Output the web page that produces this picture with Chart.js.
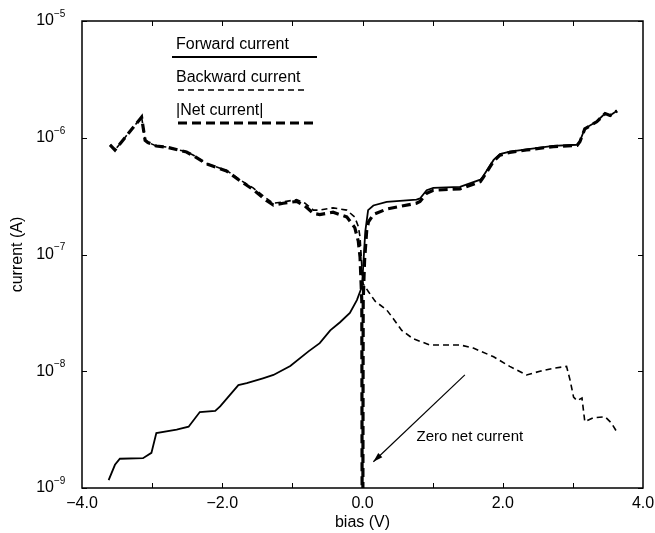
<!DOCTYPE html>
<html>
<head>
<meta charset="utf-8">
<script src="https://cdn.jsdelivr.net/npm/chart.js@4.4.1/dist/chart.umd.min.js"></script>
<style>
  html, body { margin: 0; padding: 0; background: #fff; }
  #wrap { width: 655px; height: 533px; }
</style>
</head>
<body>
<div id="wrap"><canvas id="ivChart" width="655" height="533"></canvas></div>
<script>
/* I-V curve: forward / backward / |net| current vs bias, log y axis */

const FONT = '"Liberation Sans", Arial, Helvetica, sans-serif';

// --- data ---
const forwardBias = [-3.62, -3.53, -3.46, -3.13, -3.01, -2.94, -2.65, -2.48, -2.32, -2.10, -2.03, -1.77, -1.65,
  -1.42, -1.27, -1.03, -0.77, -0.61, -0.46, -0.32, -0.18, -0.08, -0.01, 0.0, 0.02, 0.04, 0.08, 0.155, 0.345,
  0.77, 0.82, 0.915, 1.01, 1.39, 1.68, 1.72, 1.87, 1.96, 2.10, 2.34, 2.72, 3.06, 3.10, 3.17, 3.34, 3.46, 3.53, 3.63];
const forwardCurrent = [1.17e-9, 1.58e-9, 1.78e-9, 1.80e-9, 2.0e-9, 2.95e-9, 3.16e-9, 3.35e-9, 4.47e-9, 4.57e-9,
  5.0e-9, 7.6e-9, 7.9e-9, 8.7e-9, 9.3e-9, 1.11e-8, 1.48e-8, 1.74e-8, 2.24e-8, 2.63e-8, 3.16e-8, 4.07e-8, 5.25e-8,
  6.3e-8, 1.0e-7, 1.58e-7, 2.4e-7, 2.63e-7, 2.82e-7, 2.95e-7, 3.02e-7, 3.55e-7, 3.72e-7, 3.8e-7, 4.37e-7, 4.68e-7,
  6.46e-7, 7.24e-7, 7.59e-7, 7.94e-7, 8.51e-7, 8.71e-7, 9.33e-7, 1.2e-6, 1.38e-6, 1.62e-6, 1.55e-6, 1.70e-6];

const backwardBias = [-3.60, -3.53, -3.15, -3.10, -3.06, -2.94, -2.79, -2.51, -2.41, -2.23, -1.94, -1.75, -1.56,
  -1.37, -1.27, -1.13, -0.94, -0.82, -0.70, -0.61, -0.42, -0.225, -0.11, -0.06, -0.035, 0.0, 0.01, 0.085, 0.18,
  0.345, 0.44, 0.56, 0.72, 0.96, 1.39, 1.58, 1.87, 2.10, 2.34, 2.53, 2.72, 2.91, 2.96, 3.01, 3.06, 3.13, 3.17,
  3.29, 3.46, 3.55, 3.63];
const backwardCurrent = [8.7e-7, 7.85e-7, 1.51e-6, 9.55e-7, 9.12e-7, 8.51e-7, 8.32e-7, 7.59e-7, 7.08e-7, 6.03e-7,
  5.25e-7, 4.37e-7, 3.72e-7, 3.02e-7, 2.75e-7, 2.82e-7, 2.95e-7, 2.75e-7, 2.4e-7, 2.4e-7, 2.51e-7, 2.4e-7, 2.09e-7,
  1.74e-7, 1.41e-7, 6.3e-8, 5.6e-8, 4.8e-8, 3.98e-8, 3.35e-8, 2.82e-8, 2.24e-8, 1.9e-8, 1.68e-8, 1.68e-8, 1.58e-8,
  1.33e-8, 1.1e-8, 9.3e-9, 1.0e-8, 1.06e-8, 1.1e-8, 8.4e-9, 6.0e-9, 5.6e-9, 5.9e-9, 3.7e-9, 4.0e-9, 4.07e-9,
  3.6e-9, 3.0e-9];

const netBias = [-3.60, -3.53, -3.15, -3.10, -3.06, -2.94, -2.79, -2.51, -2.41, -2.23, -1.94, -1.75, -1.56, -1.37,
  -1.27, -1.13, -0.94, -0.82, -0.70, -0.61, -0.42, -0.225, -0.11, -0.06, -0.035, -0.01, 0.0, 0.01, 0.03, 0.06,
  0.085, 0.155, 0.345, 0.56, 0.77, 0.82, 0.915, 1.01, 1.39, 1.68, 1.72, 1.87, 1.96, 2.10, 2.34, 2.72, 3.06, 3.10,
  3.17, 3.34, 3.46, 3.53, 3.63];
const netCurrent = [8.7e-7, 7.85e-7, 1.5e-6, 9.5e-7, 9.1e-7, 8.5e-7, 8.3e-7, 7.55e-7, 7.0e-7, 6.0e-7, 5.2e-7,
  4.3e-7, 3.6e-7, 2.9e-7, 2.65e-7, 2.75e-7, 2.85e-7, 2.6e-7, 2.25e-7, 2.2e-7, 2.3e-7, 2.1e-7, 1.7e-7, 1.3e-7,
  9.5e-8, 4e-8, 1e-11, 4e-8, 9e-8, 1.6e-7, 1.9e-7, 2.2e-7, 2.45e-7, 2.6e-7, 2.75e-7, 2.85e-7, 3.35e-7, 3.55e-7,
  3.65e-7, 4.2e-7, 4.55e-7, 6.3e-7, 7.1e-7, 7.5e-7, 7.85e-7, 8.4e-7, 8.6e-7, 9.25e-7, 1.19e-6, 1.37e-6, 1.61e-6,
  1.55e-6, 1.70e-6];

const xTickLabels = [-4, -2, 0, 2, 4];
const xMinorTicks = [-3, -2, -1, 0, 1, 2, 3];
const yTickValues = [1e-9, 1e-8, 1e-7, 1e-6, 1e-5];
const yTickExponents = ["\u22129", "\u22128", "\u22127", "\u22126", "\u22125"];

// annotation arrow (data coords)
const arrowFrom = { x: 1.46, y: 9.3e-9 };
const arrowTo = { x: 0.155, y: 1.68e-9 };
const noteText = "Zero net current";
const notePos = { x: 0.77, y: 2.75e-9 };

const toPoints = (xs, ys) => xs.map((v, i) => ({ x: v, y: ys[i] }));

// legend rows: text above, line sample below
const legendRows = [
  { textX: 176, textY: 49, lineY: 57, x0: 172, x1: 317 },
  { textX: 176, textY: 82, lineY: 90, x0: 178, x1: 308 },
  { textX: 176, textY: 115, lineY: 123, x0: 178, x1: 316 },
];

const paperPlugin = {
  id: "paper",
  afterDraw(chart) {
    const { ctx, chartArea: a, scales: { x, y } } = chart;
    ctx.save();
    ctx.strokeStyle = "#000";
    ctx.fillStyle = "#000";

    // frame
    ctx.lineWidth = 1.5;
    ctx.strokeRect(a.left, a.top, a.right - a.left, a.bottom - a.top);

    // inward ticks
    ctx.lineWidth = 1;
    ctx.beginPath();
    xMinorTicks.forEach((v) => {
      const px = Math.round(x.getPixelForValue(v)) + 0.5;
      ctx.moveTo(px, a.bottom); ctx.lineTo(px, a.bottom - 5);
      ctx.moveTo(px, a.top); ctx.lineTo(px, a.top + 5);
    });
    yTickValues.forEach((v) => {
      const py = Math.round(y.getPixelForValue(v)) + 0.5;
      ctx.moveTo(a.left, py); ctx.lineTo(a.left + 5, py);
      ctx.moveTo(a.right, py); ctx.lineTo(a.right - 5, py);
    });
    ctx.stroke();

    // y tick labels 10^n
    ctx.textBaseline = "middle";
    yTickValues.forEach((v, i) => {
      const py = y.getPixelForValue(v);
      ctx.font = "16px " + FONT;
      ctx.textAlign = "right";
      ctx.fillText("10", 54, py);
      ctx.font = "10px " + FONT;
      ctx.textAlign = "left";
      ctx.fillText(yTickExponents[i], 54, py - 7);
    });

    // legend
    chart.data.datasets.forEach((ds, i) => {
      const r = legendRows[i];
      ctx.font = "16px " + FONT;
      ctx.textAlign = "left";
      ctx.textBaseline = "alphabetic";
      ctx.fillText(ds.label, r.textX, r.textY);
      ctx.beginPath();
      ctx.lineWidth = ds.borderWidth;
      ctx.setLineDash(ds.borderDash || []);
      ctx.moveTo(r.x0, r.lineY);
      ctx.lineTo(r.x1, r.lineY);
      ctx.stroke();
    });
    ctx.setLineDash([]);

    // annotation arrow
    const fx = x.getPixelForValue(arrowFrom.x), fy = y.getPixelForValue(arrowFrom.y);
    const tx = x.getPixelForValue(arrowTo.x), ty = y.getPixelForValue(arrowTo.y);
    ctx.lineWidth = 1.2;
    ctx.beginPath();
    ctx.moveTo(fx, fy); ctx.lineTo(tx, ty);
    ctx.stroke();
    const ang = Math.atan2(ty - fy, tx - fx);
    ctx.beginPath();
    ctx.moveTo(tx, ty);
    ctx.lineTo(tx - 10 * Math.cos(ang - 0.3), ty - 10 * Math.sin(ang - 0.3));
    ctx.lineTo(tx - 10 * Math.cos(ang + 0.3), ty - 10 * Math.sin(ang + 0.3));
    ctx.closePath();
    ctx.fill();

    ctx.font = "15px " + FONT;
    ctx.textAlign = "left";
    ctx.textBaseline = "middle";
    ctx.fillText(noteText, x.getPixelForValue(notePos.x), y.getPixelForValue(notePos.y));
    ctx.restore();
  },
};

new Chart(document.getElementById("ivChart"), {
  type: "line",
  data: {
    datasets: [
      {
        label: "Forward current",
        data: toPoints(forwardBias, forwardCurrent),
        borderColor: "#000",
        borderWidth: 1.8,
        order: 1,
      },
      {
        label: "Backward current",
        data: toPoints(backwardBias, backwardCurrent),
        borderColor: "#000",
        borderWidth: 1.6,
        borderDash: [6, 4],
        order: 2,
      },
      {
        label: "|Net current|",
        data: toPoints(netBias, netCurrent),
        borderColor: "#000",
        borderWidth: 3.2,
        borderDash: [9, 5],
        order: 3,
      },
    ],
  },
  options: {
    responsive: false,
    animation: false,
    layout: { padding: { top: 21, right: 12, left: 0, bottom: 0 } },
    elements: { point: { radius: 0 }, line: { tension: 0 } },
    plugins: { legend: { display: false }, tooltip: { enabled: false } },
    scales: {
      x: {
        type: "linear",
        min: -4,
        max: 4,
        afterBuildTicks: (s) => { s.ticks = xTickLabels.map((v) => ({ value: v })); },
        afterFit: (s) => { s.height = 45; s.paddingLeft = 0; s.paddingRight = 0; },
        grid: { display: false, drawTicks: false },
        border: { display: false },
        ticks: {
          color: "#000",
          padding: 6,
          maxRotation: 0,
          font: { family: FONT, size: 16 },
          callback: (v) => (v < 0 ? "\u2212" : "") + Math.abs(v).toFixed(1),
        },
        title: { display: true, text: "bias (V)", color: "#000", font: { family: FONT, size: 16 }, padding: { top: 0, bottom: 1 } },
      },
      y: {
        type: "logarithmic",
        min: 1e-9,
        max: 1e-5,
        afterFit: (s) => { s.width = 82; s.paddingTop = 0; s.paddingBottom = 0; },
        grid: { display: false, drawTicks: false },
        border: { display: false },
        ticks: { display: false },
        title: { display: true, text: "current (A)", color: "#000", font: { family: FONT, size: 16 }, padding: { top: 8, bottom: 0 } },
      },
    },
  },
  plugins: [paperPlugin],
});
</script>
</body>
</html>
